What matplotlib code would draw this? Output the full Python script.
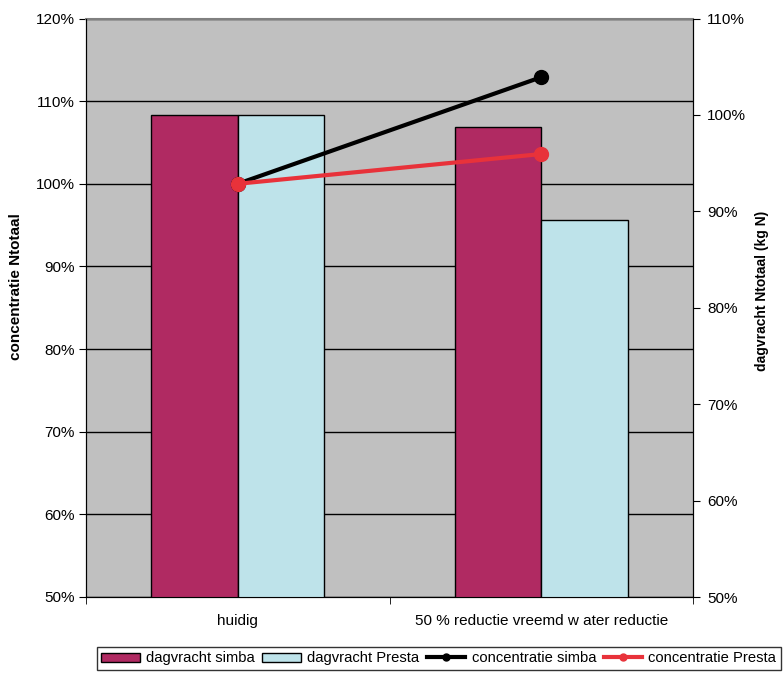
import matplotlib.pyplot as plt
import numpy as np

plt.rcParams['font.family'] = ['Liberation Sans', 'DejaVu Sans']

categories = ["huidig", "50 % reductie vreemd w ater reductie"]
dagvracht_simba = [100.0, 98.7]
dagvracht_presta = [100.0, 89.1]
conc_simba = [100.0, 112.9]
conc_presta = [100.0, 103.6]

simba_color = "#B02A62"
presta_color = "#BEE3EA"
x = np.arange(len(categories))
w = 0.285

fig = plt.figure(figsize=(7.83, 6.75), dpi=100)
ax = fig.add_axes([86/783, 78/675, 607/783, 578.5/675])

# left axis: concentratie, grey background with grid
ax.set_facecolor("#C0C0C0")
ax.set_ylim(50, 120)
ax.set_yticks(np.arange(50, 121, 10))
ax.set_yticklabels([f"{v}%" for v in range(50, 121, 10)])
ax.yaxis.grid(True, color="black", linewidth=1)
ax.set_axisbelow(True)
ax.set_ylabel("concentratie Ntotaal", fontsize=11, fontweight="bold")
ax.yaxis.set_label_coords(-0.104, 0.536)
ax.spines["top"].set_color("#808080")
ax.spines["top"].set_linewidth(1.5)
ax.tick_params(axis="y", direction="out", length=5, labelsize=11, pad=3)

ax.set_xlim(-0.5, 1.5)
ax.set_xticks(x)
ax.set_xticklabels(categories, fontsize=11)
ax.set_xticks([-0.5, 0.5, 1.5], minor=True)
ax.tick_params(axis="x", which="major", length=0, pad=12)
ax.tick_params(axis="x", which="minor", length=5, direction="out")

# right axis: dagvracht bars
ax2 = ax.twinx()
ax2.set_ylim(50, 110)
ax2.set_yticks(np.arange(50, 111, 10))
ax2.set_yticklabels([f"{v}%" for v in range(50, 111, 10)])
ax2.tick_params(axis="y", direction="out", length=5, labelsize=11, pad=5)
ax2.set_ylabel("dagvracht Ntotaal (kg N)", fontsize=10, fontweight="bold")
ax2.yaxis.set_label_coords(1.102, 0.529)
ax2.spines["top"].set_visible(False)
b1 = ax2.bar(x - w/2, dagvracht_simba, width=w, color=simba_color, edgecolor="black", linewidth=1)
b2 = ax2.bar(x + w/2, dagvracht_presta, width=w, color=presta_color, edgecolor="black", linewidth=1)

# lines on top, same scale as the left axis
ax3 = ax.twinx()
ax3.set_ylim(ax.get_ylim())
ax3.set_axis_off()
l1, = ax3.plot(x, conc_simba, color="black", linewidth=3, marker="o", markersize=10)
l2, = ax3.plot(x, conc_presta, color="#E8323A", linewidth=3, marker="o", markersize=10)

leg = fig.legend([b1, b2, l1, l2],
                 ["dagvracht simba", "dagvracht Presta", "concentratie simba", "concentratie Presta"],
                 loc="upper left", bbox_to_anchor=(97/783, 1 - 647/675), ncol=4,
                 fontsize=10.6, frameon=True, fancybox=False, edgecolor="black",
                 handlelength=2.6, handleheight=0.6, handletextpad=0.45, columnspacing=0.5,
                 borderpad=0.3, borderaxespad=0, markerscale=0.5)
leg.get_frame().set_linewidth(1)

fig.savefig("out.png", dpi=100)
